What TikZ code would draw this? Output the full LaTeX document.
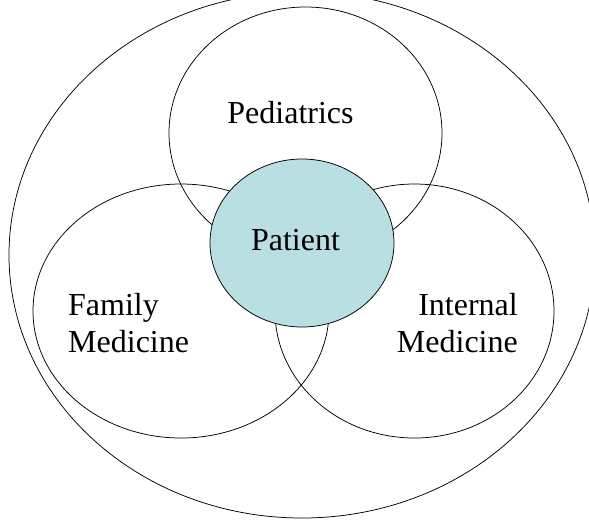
\documentclass[tikz,border=0pt]{standalone}
\usepackage{fontspec}
\setmainfont{Liberation Serif}
\usetikzlibrary{shapes.geometric}
\definecolor{patientfill}{RGB}{185,223,227}
\begin{document}
\begin{tikzpicture}[x=1pt,y=-1pt,
  ring/.style={draw=black,line width=0.75pt},
  lbl/.style={inner sep=0pt,font=\fontsize{32}{37.7}\selectfont}]
\useasboundingbox (0,0) rectangle (589,523);
\begin{scope}
\clip (0,0) rectangle (589,523);
\draw[ring] (302,255) ellipse [x radius=293pt, y radius=263pt];
\end{scope}
\draw[ring] (305.5,133) ellipse [x radius=136.5pt, y radius=126pt];
\draw[ring] (181,311) ellipse [x radius=148pt, y radius=127pt];
\draw[ring] (414.5,311) ellipse [x radius=139.5pt, y radius=127pt];
\draw[ring,fill=patientfill] (302,243) ellipse [x radius=92pt, y radius=84pt];
\node[lbl,anchor=base] (ped) at (290.5,123) {Pediatrics};
\node[lbl,anchor=base] (pat) at (295.5,250) {Patient};
\node[lbl,anchor=base west,align=left] (fam) at (68,352.7) {Family\\Medicine};
\node[lbl,anchor=base east,align=right] (int) at (518,352.7) {Internal\\Medicine};
\end{tikzpicture}
\end{document}
